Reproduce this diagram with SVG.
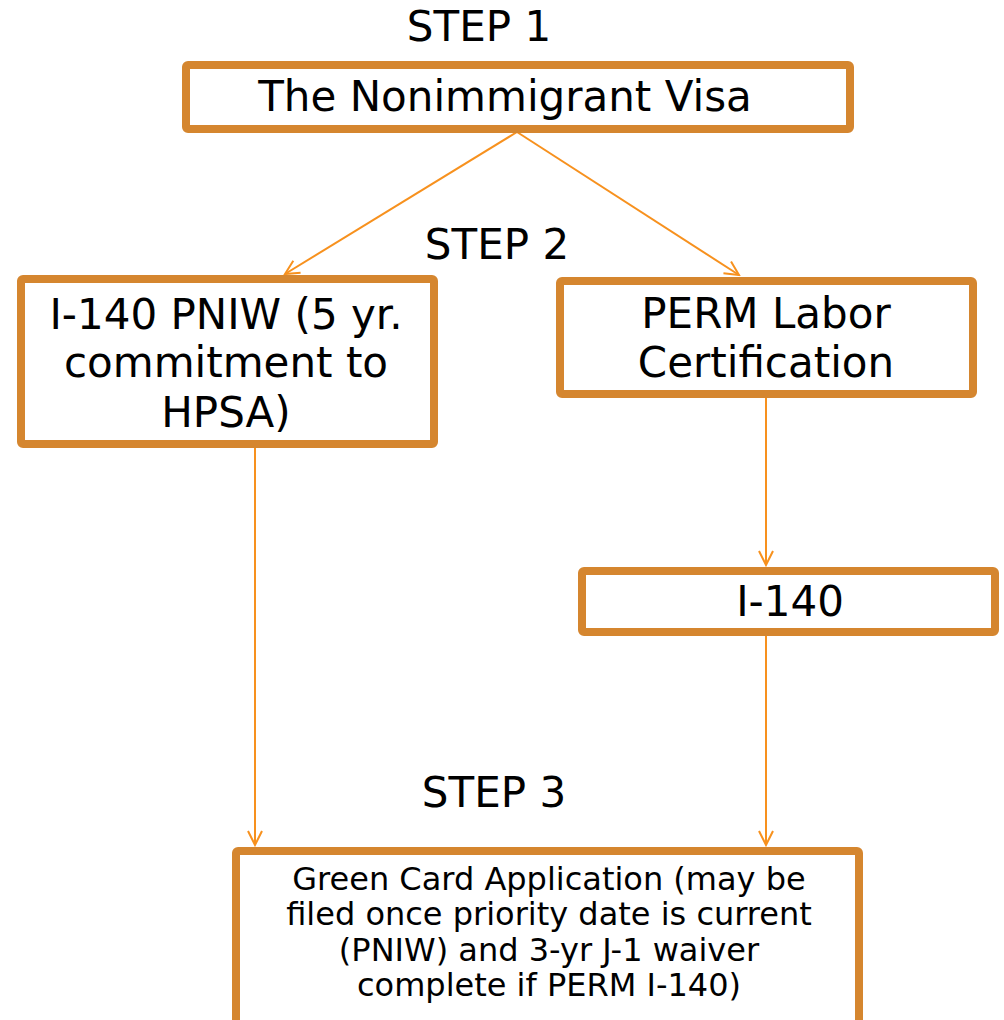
<svg xmlns="http://www.w3.org/2000/svg" width="1004" height="1020" viewBox="0 0 1004 1020">
<defs>
<style>
.box{fill:#fff;stroke:#D5862F;stroke-width:8;}
.t{font-family:"DejaVu Sans",Verdana,sans-serif;fill:#000;text-anchor:middle;}
.big{font-size:42px;}
.small{font-size:32px;}
.c{stroke:#F7911E;stroke-width:2;fill:none;}
</style>
<marker id="arr" viewBox="0 0 20 20" refX="18" refY="10" markerWidth="20" markerHeight="20" markerUnits="userSpaceOnUse" orient="auto">
<path d="M4,3 L18,10 L4,17" fill="none" stroke="#F7911E" stroke-width="2"/>
</marker>
</defs>
<rect width="1004" height="1020" fill="#fff"/>
<g id="connectors">
<line class="c" x1="517" y1="132" x2="285" y2="274" marker-end="url(#arr)"/>
<line class="c" x1="517" y1="132" x2="739" y2="275" marker-end="url(#arr)"/>
<line class="c" x1="255" y1="448" x2="255" y2="845" marker-end="url(#arr)"/>
<line class="c" x1="766" y1="398" x2="766" y2="565" marker-end="url(#arr)"/>
<line class="c" x1="766" y1="636" x2="766" y2="845" marker-end="url(#arr)"/>
</g>
<g id="labels">
<text class="t big" x="479" y="41">STEP 1</text>
<text class="t big" x="497" y="259">STEP 2</text>
<text class="t big" x="494" y="807">STEP 3</text>
</g>
<g id="node1">
<rect class="box" x="186" y="65" width="664" height="64" rx="2"/>
<text class="t big" x="505" y="111">The Nonimmigrant Visa</text>
</g>
<g id="node2">
<rect class="box" x="21" y="279" width="413" height="165" rx="2"/>
<text class="t big" x="226" y="329">I-140 PNIW (5 yr.</text>
<text class="t big" x="226" y="377">commitment to</text>
<text class="t big" x="226" y="427">HPSA)</text>
</g>
<g id="node3">
<rect class="box" x="560" y="281" width="413" height="113" rx="2"/>
<text class="t big" x="766" y="328">PERM Labor</text>
<text class="t big" x="766" y="377">Certification</text>
</g>
<g id="node4">
<rect class="box" x="582" y="571" width="413" height="61" rx="2"/>
<text class="t big" x="790" y="616">I-140</text>
</g>
<g id="node5">
<rect class="box" x="236" y="851" width="623" height="190" rx="2"/>
<text class="t small" x="549" y="890">Green Card Application (may be</text>
<text class="t small" x="549" y="925">filed once priority date is current</text>
<text class="t small" x="549" y="961">(PNIW) and 3-yr J-1 waiver</text>
<text class="t small" x="549" y="996">complete if PERM I-140)</text>
</g>
</svg>
